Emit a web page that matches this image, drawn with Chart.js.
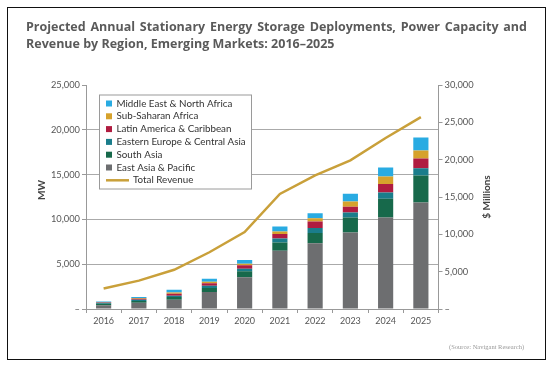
<!DOCTYPE html>
<html>
<head>
<meta charset="utf-8">
<script src="https://cdn.jsdelivr.net/npm/chart.js@4"></script>
<style>
  body { margin: 0; background: #fff; }
  #wrap { position: relative; width: 555px; height: 371px; overflow: hidden; }
  #frame { position: absolute; left: 7px; top: 7px; width: 537px; height: 351px; border: 1.5px solid #111; }
  #title {
    position: absolute; left: 26px; top: 19px; width: 501px;
    font: bold 12.5px "Open Sans", sans-serif; line-height: 16.7px;
    color: #5a5a5a; text-align: justify;
  }
  #source {
    position: absolute; left: 449px; top: 343px;
    font: 6.5px "Liberation Serif", serif; color: #9a9a9a;
  }
  canvas { position: absolute; left: 0; top: 0; }
</style>
</head>
<body>
<div id="wrap">
  <div id="frame"></div>
  <canvas id="grafico" width="555" height="371"></canvas>
  <div id="title">Projected Annual Stationary Energy Storage Deployments, Power Capacity and Revenue by Region, Emerging Markets: 2016–2025</div>
  <div id="source">(Source: Navigant Research)</div>
</div>
<script>
const years = ['2016', '2017', '2018', '2019', '2020', '2021', '2022', '2023', '2024', '2025'];

// MW per region (stacked bars)
const eastAsia = [420, 700, 1040, 1900, 3530, 6500, 7330, 8550, 10200, 11900];
const southAsia = [170, 200, 300, 440, 670, 930, 1150, 1650, 2100, 3000];
const easternEurope = [100, 120, 140, 260, 300, 430, 560, 560, 700, 800];
const latinAmerica = [50, 120, 220, 260, 370, 500, 730, 640, 950, 1100];
const subSahara = [40, 80, 150, 190, 190, 290, 370, 600, 850, 900];
const middleEast = [70, 120, 300, 330, 410, 550, 560, 870, 1000, 1450];

// $ millions
const totalRevenue = [2750, 3800, 5250, 7600, 10300, 15400, 17900, 19900, 22900, 25700];

const mwTicks = [0, 5000, 10000, 15000, 20000, 25000];
const revenueTicks = [0, 5000, 10000, 15000, 20000, 25000, 30000];

const tickFont = { family: 'Lato', size: 9.3 };
const tickColor = '#555';

function fmt(v) {
  return v === 0 ? '–' : v.toLocaleString('en-US');
}

// legend with a frame, drawn inside the plot
const boxLegend = {
  id: 'boxLegend',
  afterDraw(chart) {
    const ctx = chart.ctx;
    const x = 99, y = 94.5, w = 153, h = 95;
    ctx.save();
    ctx.fillStyle = '#fff';
    ctx.fillRect(x, y, w, h);
    ctx.strokeStyle = '#9a9a9a';
    ctx.lineWidth = 1;
    ctx.strokeRect(x + 0.5, y + 0.5, w - 1, h - 1);

    const bars = chart.data.datasets.filter(d => d.type !== 'line').reverse();
    const lines = chart.data.datasets.filter(d => d.type === 'line');
    ctx.font = '9.8px Lato';
    ctx.textBaseline = 'middle';
    let rowY = 103.5;
    bars.forEach(d => {
      ctx.fillStyle = d.backgroundColor;
      ctx.fillRect(106, rowY - 3, 6, 6);
      ctx.fillStyle = '#333';
      ctx.fillText(d.label, 116.5, rowY);
      rowY += 12.8;
    });
    lines.forEach(d => {
      ctx.strokeStyle = d.borderColor;
      ctx.lineWidth = 2.5;
      ctx.beginPath();
      ctx.moveTo(106, rowY);
      ctx.lineTo(129, rowY);
      ctx.stroke();
      ctx.fillStyle = '#333';
      ctx.fillText(d.label, 133, rowY);
      rowY += 12.8;
    });
    ctx.restore();
  }
};

// axis titles, both read bottom to top
const axisTitles = {
  id: 'axisTitles',
  afterDraw(chart) {
    const ctx = chart.ctx;
    const a = chart.chartArea;
    const cy = (a.top + a.bottom) / 2;
    ctx.save();
    ctx.font = 'bold 10px Lato';
    ctx.fillStyle = '#444';
    ctx.textAlign = 'center';
    ctx.textBaseline = 'middle';
    [['y', 42, cy - 7], ['y1', 487, cy]].forEach(([id, tx, ty]) => {
      ctx.save();
      ctx.translate(tx, ty);
      ctx.rotate(-Math.PI / 2);
      ctx.fillText(chart.options.scales[id].title.text, 0, 0);
      ctx.restore();
    });
    ctx.restore();
  }
};

function barSet(label, data, color) {
  return {
    type: 'bar', label: label, data: data, backgroundColor: color,
    yAxisID: 'y', stack: 'mw', order: 1,
    barPercentage: 0.43, categoryPercentage: 1
  };
}

new Chart(document.getElementById('grafico'), {
  data: {
    labels: years,
    datasets: [
      barSet('East Asia & Pacific', eastAsia, '#6d6e70'),
      barSet('South Asia', southAsia, '#17694b'),
      barSet('Eastern Europe & Central Asia', easternEurope, '#1a7d8b'),
      barSet('Latin America & Caribbean', latinAmerica, '#b01c40'),
      barSet('Sub-Saharan Africa', subSahara, '#d6a22c'),
      barSet('Middle East & North Africa', middleEast, '#29abe2'),
      {
        type: 'line', label: 'Total Revenue', data: totalRevenue,
        borderColor: '#c9a03a', borderWidth: 2.5, pointRadius: 0,
        tension: 0, yAxisID: 'y1', order: 0
      }
    ]
  },
  options: {
    responsive: false,
    animation: false,
    layout: { padding: { top: 85, left: 0, right: 0, bottom: 0 } },
    plugins: { legend: { display: false }, tooltip: { enabled: false } },
    scales: {
      x: {
        stacked: true,
        offset: true,
        grid: { offset: true, drawOnChartArea: false, tickLength: 4, color: '#999' },
        border: { color: '#999' },
        ticks: { font: { family: 'Lato', size: 9 }, color: tickColor, padding: 3 },
        afterFit(s) { s.height = 62; }
      },
      y: {
        stacked: true,
        position: 'left',
        min: 0, max: 25000,
        afterBuildTicks(s) { s.ticks = mwTicks.map(v => ({ value: v })); },
        grid: {
          color: c => (c.tick && c.tick.value === 25000) ? 'rgba(0,0,0,0)' : '#aaa',
          tickColor: '#999', tickLength: 4
        },
        border: { color: '#999' },
        ticks: { font: tickFont, color: tickColor, padding: 2, callback: v => fmt(v) },
        title: { display: false, text: 'MW' },
        afterFit(s) { s.width = 86; }
      },
      y1: {
        position: 'right',
        min: 0, max: 30000,
        afterBuildTicks(s) { s.ticks = revenueTicks.map(v => ({ value: v })); },
        grid: { drawOnChartArea: false, tickColor: '#999', tickLength: 4 },
        border: { color: '#999' },
        ticks: { font: tickFont, color: tickColor, padding: 2, callback: v => fmt(v) },
        title: { display: false, text: '$ Millions' },
        afterFit(s) { s.width = 116.5; }
      }
    }
  },
  plugins: [boxLegend, axisTitles]
});
</script>
</body>
</html>
